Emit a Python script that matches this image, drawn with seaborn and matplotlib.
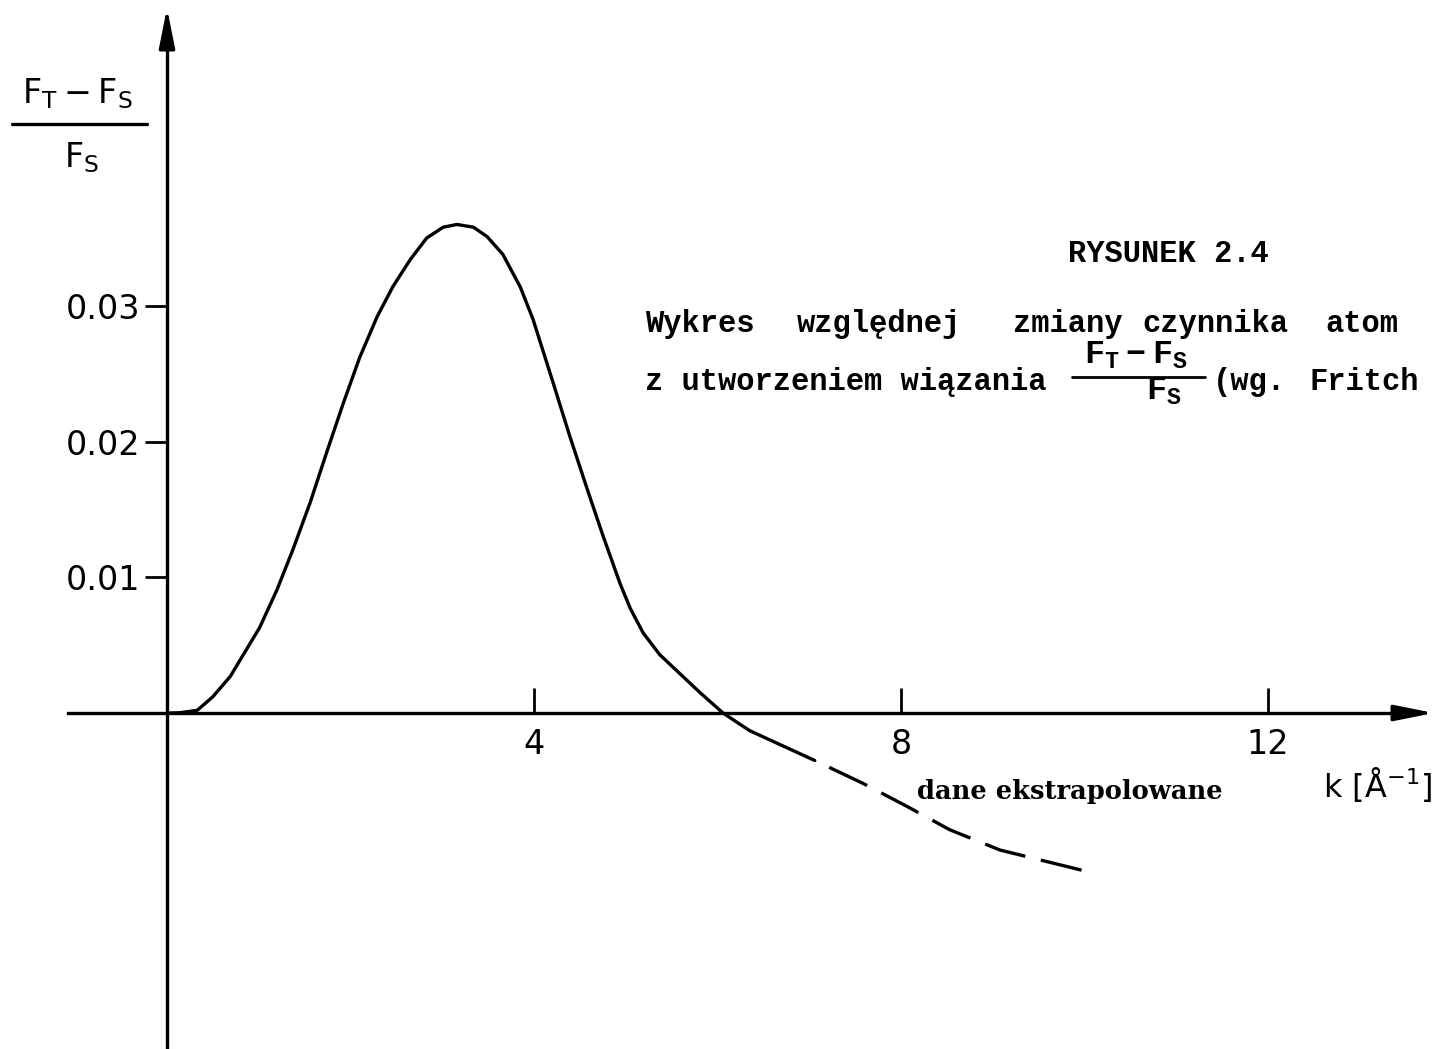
import matplotlib
matplotlib.use("Agg")
import matplotlib.pyplot as plt
import seaborn as sns
from matplotlib.lines import Line2D

# Relative change of the atomic scattering factor vs. k
k_solid = [0.03, 0.14, 0.33, 0.50, 0.69, 1.01, 1.20, 1.37, 1.56, 1.74, 1.92,
           2.10, 2.29, 2.46, 2.65, 2.83, 3.01, 3.16, 3.34, 3.49, 3.66, 3.85,
           3.99, 4.21, 4.39, 4.58, 4.75, 4.94, 5.05, 5.19, 5.37, 5.59, 5.81,
           6.06, 6.35, 7.06]
ratio_solid = [0.0, 0.00002, 0.0002, 0.0012, 0.0027, 0.0063, 0.0091, 0.0120,
               0.0155, 0.0192, 0.0228, 0.0262, 0.0292, 0.0314, 0.0334, 0.0350,
               0.0358, 0.0360, 0.0358, 0.0351, 0.0338, 0.0314, 0.0290, 0.0243,
               0.0204, 0.0165, 0.0131, 0.0095, 0.0077, 0.0059, 0.0043, 0.0029,
               0.0015, 0.0, -0.0013, -0.0035]

# Extrapolated tail (dashed)
k_extrap = [7.06, 7.59, 8.07, 8.53, 9.08, 9.98]
ratio_extrap = [-0.0035, -0.0052, -0.0069, -0.0086, -0.0101, -0.0116]

k_ticks = [4, 8, 12]
k_tick_labels = ["4", "8", "12"]
ratio_ticks = [0.01, 0.02, 0.03]
ratio_tick_labels = ["0.01", "0.02", "0.03"]

sns.set_theme(style="white")
plt.rcParams["font.family"] = ["DejaVu Sans"]
plt.rcParams["text.color"] = "black"

W, H = 1437, 1049
fig = plt.figure(figsize=(W / 100, H / 100), dpi=100)
ax = fig.add_axes([0, 0, 1, 1])
ax.set_facecolor("white")
fig.patch.set_facecolor("white")

# pixel-based frame: origin at (167, 713), 91.75 px per k unit, 13570 px per ratio unit
ox, oy, sx, sy = 167, 713, 91.75, 13570.0
ax.set_xlim(-ox / sx, (W - ox) / sx)
ax.set_ylim(-(H - oy) / sy, oy / sy)

LW = 2.4
sns.lineplot(x=k_solid, y=ratio_solid, ax=ax, color="black", linewidth=LW,
             sort=False, estimator=None, solid_joinstyle="round")
sns.lineplot(x=k_extrap, y=ratio_extrap, ax=ax, color="black", linewidth=LW,
             sort=False, estimator=None)
# start the extrapolated part with a gap so it separates from the solid curve
ax.get_lines()[-1].set_linestyle((12.6, (12.6, 4.8)))

# axes crossing at the origin
for side in ["top", "right"]:
    ax.spines[side].set_visible(False)
ax.spines["left"].set_position(("data", 0))
ax.spines["bottom"].set_position(("data", 0))
y_top_base = (oy - 40) / sy
x_right_base = (1402 - ox) / sx
ax.spines["left"].set_bounds(-(H - oy) / sy, y_top_base)
ax.spines["bottom"].set_bounds((68 - ox) / sx, x_right_base)
for side in ["left", "bottom"]:
    ax.spines[side].set_linewidth(LW)
    ax.spines[side].set_color("black")

arrow = dict(arrowstyle="-|>,head_length=0.8,head_width=0.16", color="black",
             lw=LW, mutation_scale=30, shrinkA=0, shrinkB=0)
ax.annotate("", xy=(0, (oy - 8) / sy), xytext=(0, y_top_base), arrowprops=arrow)
ax.annotate("", xy=((1434 - ox) / sx, 0), xytext=(x_right_base, 0), arrowprops=arrow)

ax.set_xticks(k_ticks)
ax.set_xticklabels(k_tick_labels)
ax.set_yticks(ratio_ticks)
ax.set_yticklabels(ratio_tick_labels)
ax.tick_params(axis="x", direction="in", length=18, width=2, pad=11,
               labelsize=24, colors="black", bottom=True)
ax.tick_params(axis="y", direction="out", length=16, width=2, pad=3,
               labelsize=24, colors="black", left=True)
ax.set_xlabel("")
ax.set_ylabel("")


def fx(px):
    return px / W


def fy(py):
    return 1 - py / H


# y-axis quantity as a stacked fraction
fig.text(fx(77), fy(103), r"$\mathregular{F_T - F_S}$", fontsize=24,
         ha="center", va="baseline")
fig.add_artist(Line2D([fx(12), fx(147)], [fy(124), fy(124)], color="black",
                      lw=LW, transform=fig.transFigure))
fig.text(fx(82), fy(167), r"$\mathregular{F_S}$", fontsize=24,
         ha="center", va="baseline")

# x-axis quantity
fig.text(fx(1432), fy(797), r"k [Å$^{\mathregular{-1}}$]", fontsize=23,
         ha="right", va="baseline")

fig.text(fx(917), fy(799), "dane ekstrapolowane", fontsize=18.5,
         family="DejaVu Serif", weight="bold", ha="left", va="baseline")

# figure caption in typewriter style
mono = dict(family="Liberation Mono", weight="bold", fontsize=22,
            ha="left", va="baseline")
fig.text(fx(1068), fy(262), "RYSUNEK 2.4", **mono)
for word, px in [("Wykres", 645), ("względnej", 797), ("zmiany", 1013),
                 ("czynnika", 1142), ("atom", 1325)]:
    fig.text(fx(px), fy(332), word, **mono)
fig.text(fx(645), fy(390), "z utworzeniem wiązania", **mono)
fig.text(fx(1084), fy(364), r"$\mathregular{F_T-F_S}$",
         **{**mono, "fontsize": 24})
fig.add_artist(Line2D([fx(1072), fx(1205)], [fy(377), fy(377)], color="black",
                      lw=2, transform=fig.transFigure))
fig.text(fx(1146), fy(400), r"$\mathregular{F_S}$", **{**mono, "fontsize": 24})
fig.text(fx(1213), fy(390), "(wg.", **mono)
fig.text(fx(1310), fy(390), "Fritch", **mono)

fig.savefig("out.png", dpi=100, facecolor="white")
